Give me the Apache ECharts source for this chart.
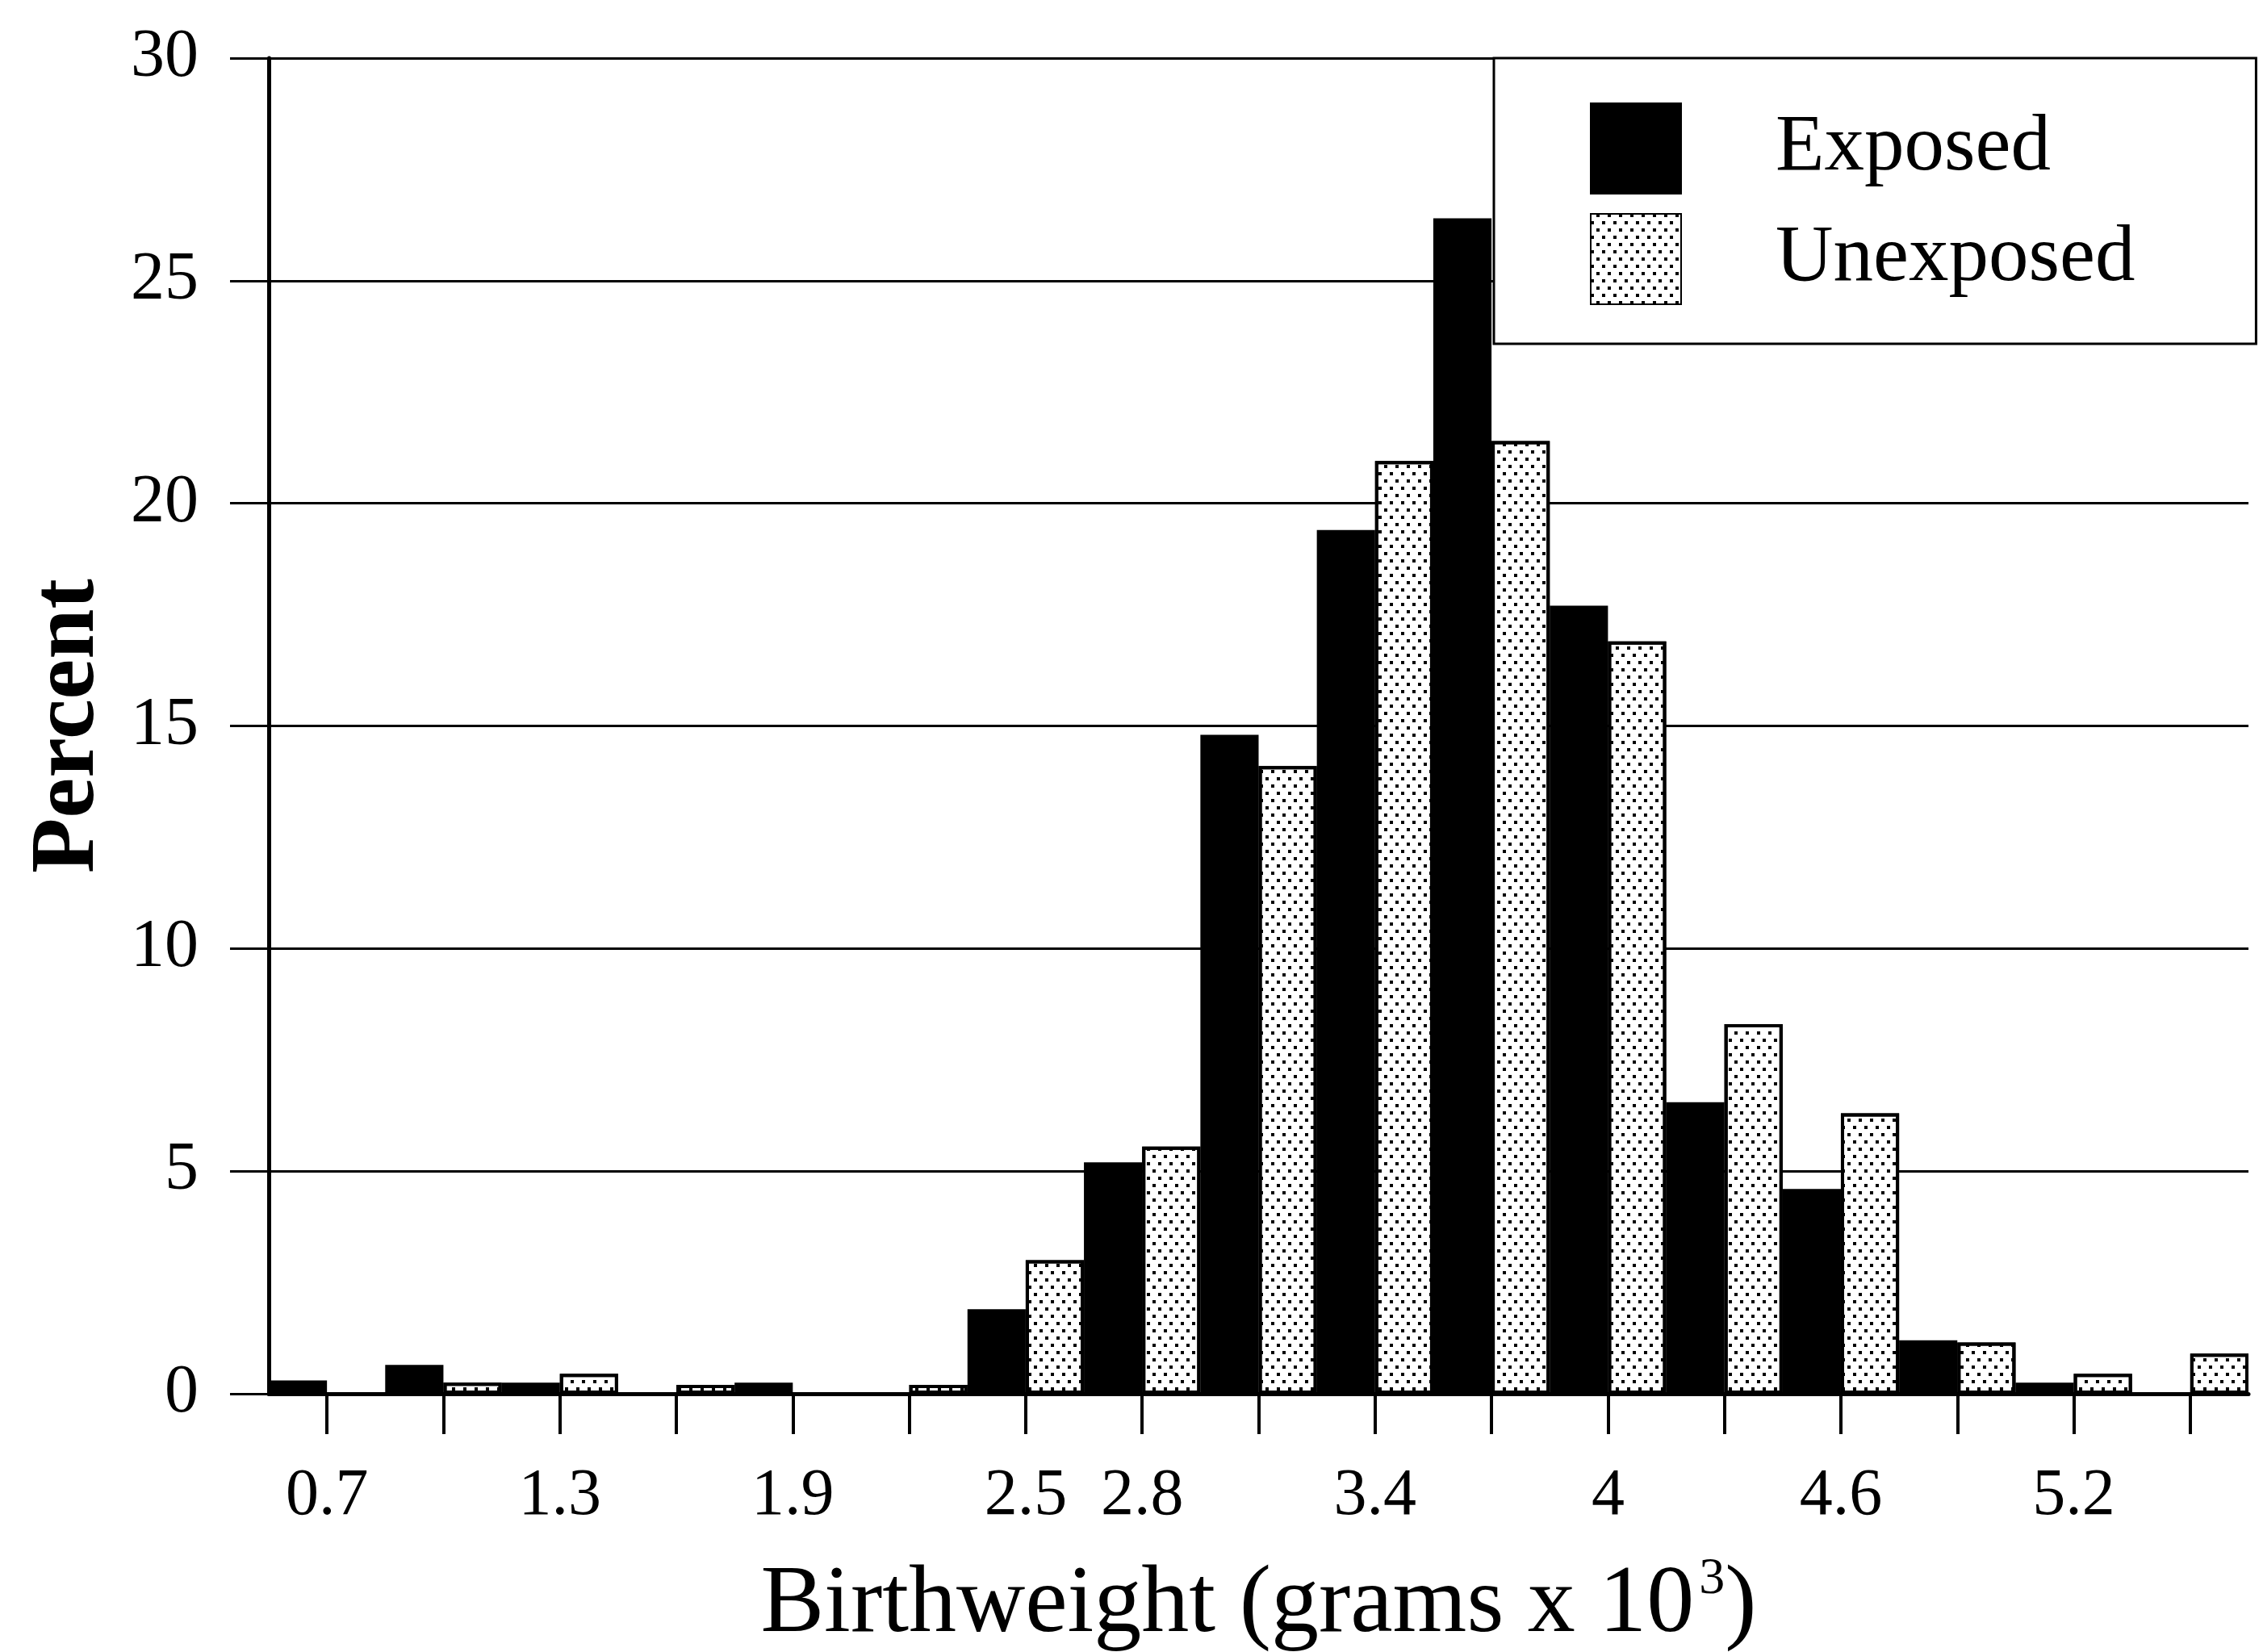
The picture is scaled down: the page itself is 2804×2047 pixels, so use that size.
<!DOCTYPE html>
<html><head><meta charset="utf-8">
<script src="https://cdn.jsdelivr.net/npm/echarts@6/dist/echarts.min.js"></script>
<style>html,body{margin:0;padding:0;background:#fff}#c{width:2804px;height:2047px}</style>
</head><body><div id="c"></div>
<script>
// Birthweight bins (grams x 10^3), one per tick
const categories = ['0.7','1.0','1.3','1.6','1.9','2.2','2.5','2.8','3.1','3.4','3.7','4','4.3','4.6','4.9','5.2','5.5'];
// tick labels that are printed under the axis
const shownLabels = ['0.7','1.3','1.9','2.5','2.8','3.4','4','4.6','5.2'];
// Percent of births
const exposed   = [0.3, 0.65, 0.25, 0, 0.25, 0, 1.9, 5.2, 14.8, 19.4, 26.4, 17.7, 6.55, 4.6, 1.2, 0.25, 0];
const unexposed = [0, 0.25, 0.45, 0.2, 0, 0.2, 3.0, 5.55, 14.1, 20.95, 21.4, 16.9, 8.3, 6.3, 1.15, 0.45, 0.9];
const yMin = 0, yMax = 30, yStep = 5;

const FONT = '"Liberation Serif", "Times New Roman", serif';
const chart = echarts.init(document.getElementById('c'), null, {renderer: 'canvas'});
const stipple = {
  symbol: 'rect', symbolSize: 1, color: '#000',
  dashArrayX: [[4, 10], [0, 7, 4, 3]],
  dashArrayY: [4, 5]
};
chart.setOption({
  animation: false,
  backgroundColor: '#fff',
  grid: {left: 333, right: 18, top: 72, bottom: 320, containLabel: false, outerBoundsMode: 'none'},
  legend: {
    orient: 'vertical', left: 1851, top: 72,
    padding: [55, 150, 48, 119],
    itemWidth: 112, itemHeight: 112, itemGap: 23,
    backgroundColor: '#fff', borderColor: '#000', borderWidth: 3,
    icon: 'rect',
    textStyle: {fontFamily: FONT, fontSize: 99, color: '#000', padding: [18, 0, 0, 112]},
    data: ['Exposed', 'Unexposed']
  },
  xAxis: {
    type: 'category', data: categories, boundaryGap: true,
    name: 'Birthweight (grams x 10{sup|3})',
    nameLocation: 'middle', nameGap: 198,
    nameTextStyle: {fontFamily: FONT, fontSize: 118, color: '#000', lineHeight: 130,
      rich: {sup: {fontFamily: FONT, fontSize: 64, color: '#000', verticalAlign: 'top', lineHeight: 64, padding: [0, 0, 34, 6]}}},
    axisLine: {show: true, lineStyle: {color: '#000', width: 5}},
    axisTick: {show: true, alignWithLabel: true, interval: 0, length: 50, lineStyle: {color: '#000', width: 4}},
    axisLabel: {
      interval: (i, v) => shownLabels.indexOf(v) >= 0,
      fontFamily: FONT, fontSize: 82, color: '#000', margin: 86
    },
    splitLine: {show: false}
  },
  yAxis: {
    type: 'value', min: yMin, max: yMax, interval: yStep,
    name: 'Percent', nameLocation: 'middle', nameGap: 191, nameRotate: 90,
    nameTextStyle: {fontFamily: FONT, fontSize: 112, fontWeight: 'bold', color: '#000'},
    axisLine: {show: true, lineStyle: {color: '#000', width: 5}},
    axisTick: {show: true, length: 48, lineStyle: {color: '#000', width: 3}},
    axisLabel: {fontFamily: FONT, fontSize: 84, color: '#000', margin: 87},
    splitLine: {show: true, lineStyle: {color: '#000', width: 3}}
  },
  series: [
    {name: 'Exposed', type: 'bar', data: exposed, barGap: '0%', barCategoryGap: '0%',
     itemStyle: {color: '#000', borderColor: '#000', borderWidth: 2}},
    {name: 'Unexposed', type: 'bar', data: unexposed, barGap: '0%', barCategoryGap: '0%',
     itemStyle: {color: '#fff', borderColor: '#000', borderWidth: 4, decal: stipple}}
  ]
});
</script></body></html>
